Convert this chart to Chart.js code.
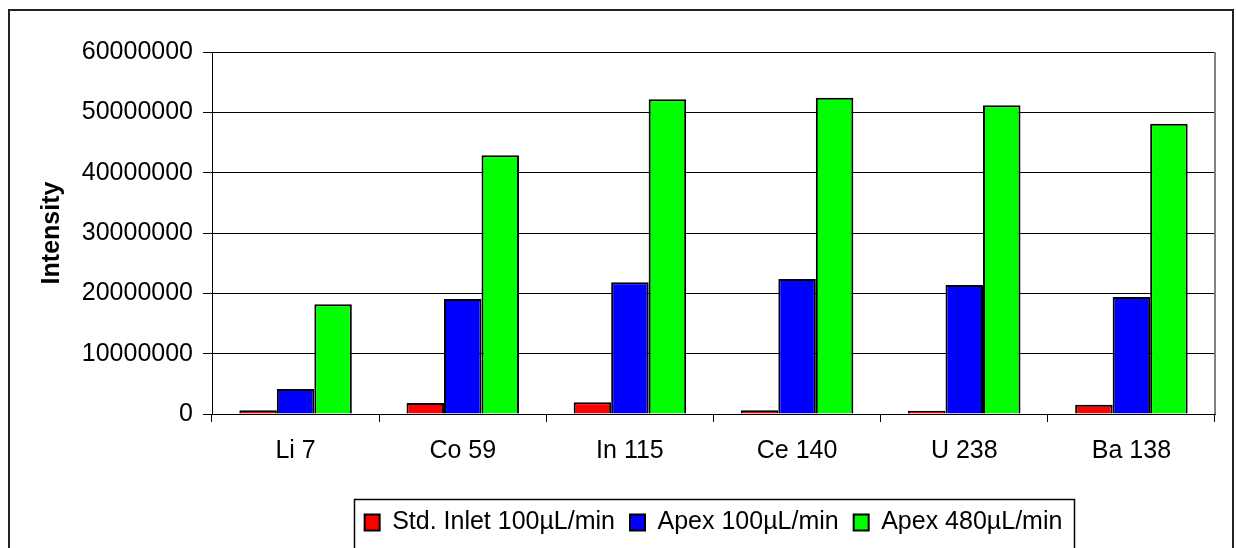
<!DOCTYPE html>
<html>
<head>
<meta charset="utf-8">
<script src="https://cdn.jsdelivr.net/npm/chart.js@4"></script>
<style>
    html, body { margin: 0; padding: 0; background: #fff; }
    #wrap { width: 1236px; height: 548px; position: relative; }
</style>
</head>
<body>
<div id="wrap"><canvas id="intensityChart"></canvas></div>
<script>
// Values (counts)
const elements = ['Li 7', 'Co 59', 'In 115', 'Ce 140', 'U 238', 'Ba 138'];
const stdInlet100 = [610000, 1820000, 1940000, 610000, 550000, 1540000];
const apex100 = [4140000, 19060000, 21830000, 22380000, 21380000, 19390000];
const apex480 = [18180000, 42880000, 52160000, 52430000, 51170000, 48120000];
const yTicks = [0, 10000000, 20000000, 30000000, 40000000, 50000000, 60000000];

const font = "'Liberation Sans', Arial, sans-serif";

// white page, outer frame, grey right edge of the plot, legend box
const framePlugin = {
    id: 'frame',
    afterLayout(chart) {
        // legend is centred under the plot area, not the canvas
        const lg = chart.legend;
        const area = chart.chartArea;
        const dx = (area.left + area.right) / 2 - (lg.left + lg.right) / 2;
        lg.left += dx;
        lg.right += dx;
    },
    beforeDraw(chart) {
        const ctx = chart.ctx;
        ctx.save();
        ctx.fillStyle = '#fff';
        ctx.fillRect(0, 0, chart.width, chart.height);
        ctx.restore();
    },
    afterDraw(chart) {
        const ctx = chart.ctx;
        const area = chart.chartArea;
        const lg = chart.legend;
        ctx.save();
        ctx.strokeStyle = '#222';
        ctx.lineWidth = 2;
        ctx.strokeRect(9, 10, 1224, 600);

        ctx.strokeStyle = '#808080';
        ctx.lineWidth = 2;
        ctx.beginPath();
        ctx.moveTo(area.right, area.top);
        ctx.lineTo(area.right, area.bottom);
        ctx.stroke();

        const pad = lg.options.labels.padding;
        const lw = lg.lineWidths[0] - pad;
        const cx = (lg.left + lg.right) / 2;
        const cy = lg.top + pad + 12.5;
        ctx.strokeStyle = '#000';
        ctx.lineWidth = 1.5;
        ctx.strokeRect(Math.round(cx - lw / 2 - 11) + 0.5, Math.round(cy - 24) + 0.5,
            Math.round(lw + 22), 50);
        ctx.restore();
    }
};

const ctx = document.getElementById('intensityChart').getContext('2d');
const intensityChart = new Chart(ctx, {
    type: 'bar',
    data: {
        labels: elements,
        datasets: [
            { label: 'Std. Inlet 100µL/min', data: stdInlet100, backgroundColor: '#ff0000' },
            { label: 'Apex 100µL/min', data: apex100, backgroundColor: '#0000ff' },
            { label: 'Apex 480µL/min', data: apex480, backgroundColor: '#00ff00' }
        ]
    },
    options: {
        responsive: true,
        maintainAspectRatio: false,
        animation: false,
        events: [],
        layout: { padding: { left: 20, right: 21, top: 52, bottom: 3 } },
        datasets: {
            bar: {
                borderColor: '#000',
                borderWidth: 2,
                borderSkipped: 'start',
                categoryPercentage: 0.673,
                barPercentage: 1
            }
        },
        plugins: {
            title: { display: false },
            tooltip: { enabled: false },
            legend: {
                position: 'bottom',
                labels: {
                    color: '#000',
                    font: { family: font, size: 25 },
                    boxWidth: 15,
                    boxHeight: 16,
                    padding: 15
                }
            }
        },
        scales: {
            x: {
                afterFit(scale) { scale.height = 81; },
                grid: {
                    offset: true,
                    drawOnChartArea: false,
                    color: '#000',
                    tickLength: 8
                },
                border: { color: '#000', width: 1 },
                ticks: {
                    color: '#000',
                    font: { family: font, size: 25 },
                    padding: 14,
                    maxRotation: 0
                }
            },
            y: {
                min: 0,
                max: 60000000,
                afterFit(scale) { scale.width = 192; },
                afterBuildTicks(scale) {
                    scale.ticks = yTicks.map(v => ({ value: v }));
                },
                grid: { color: '#000', lineWidth: 1, tickLength: 9 },
                border: { color: '#000', width: 1 },
                ticks: {
                    color: '#000',
                    font: { family: font, size: 25 },
                    padding: 10,
                    callback: v => String(v)
                },
                title: {
                    display: true,
                    text: 'Intensity',
                    color: '#000',
                    font: { family: font, size: 25, weight: 'bold' },
                    padding: { top: 17, bottom: 0 }
                }
            }
        }
    },
    plugins: [framePlugin]
});
</script>
</body>
</html>
